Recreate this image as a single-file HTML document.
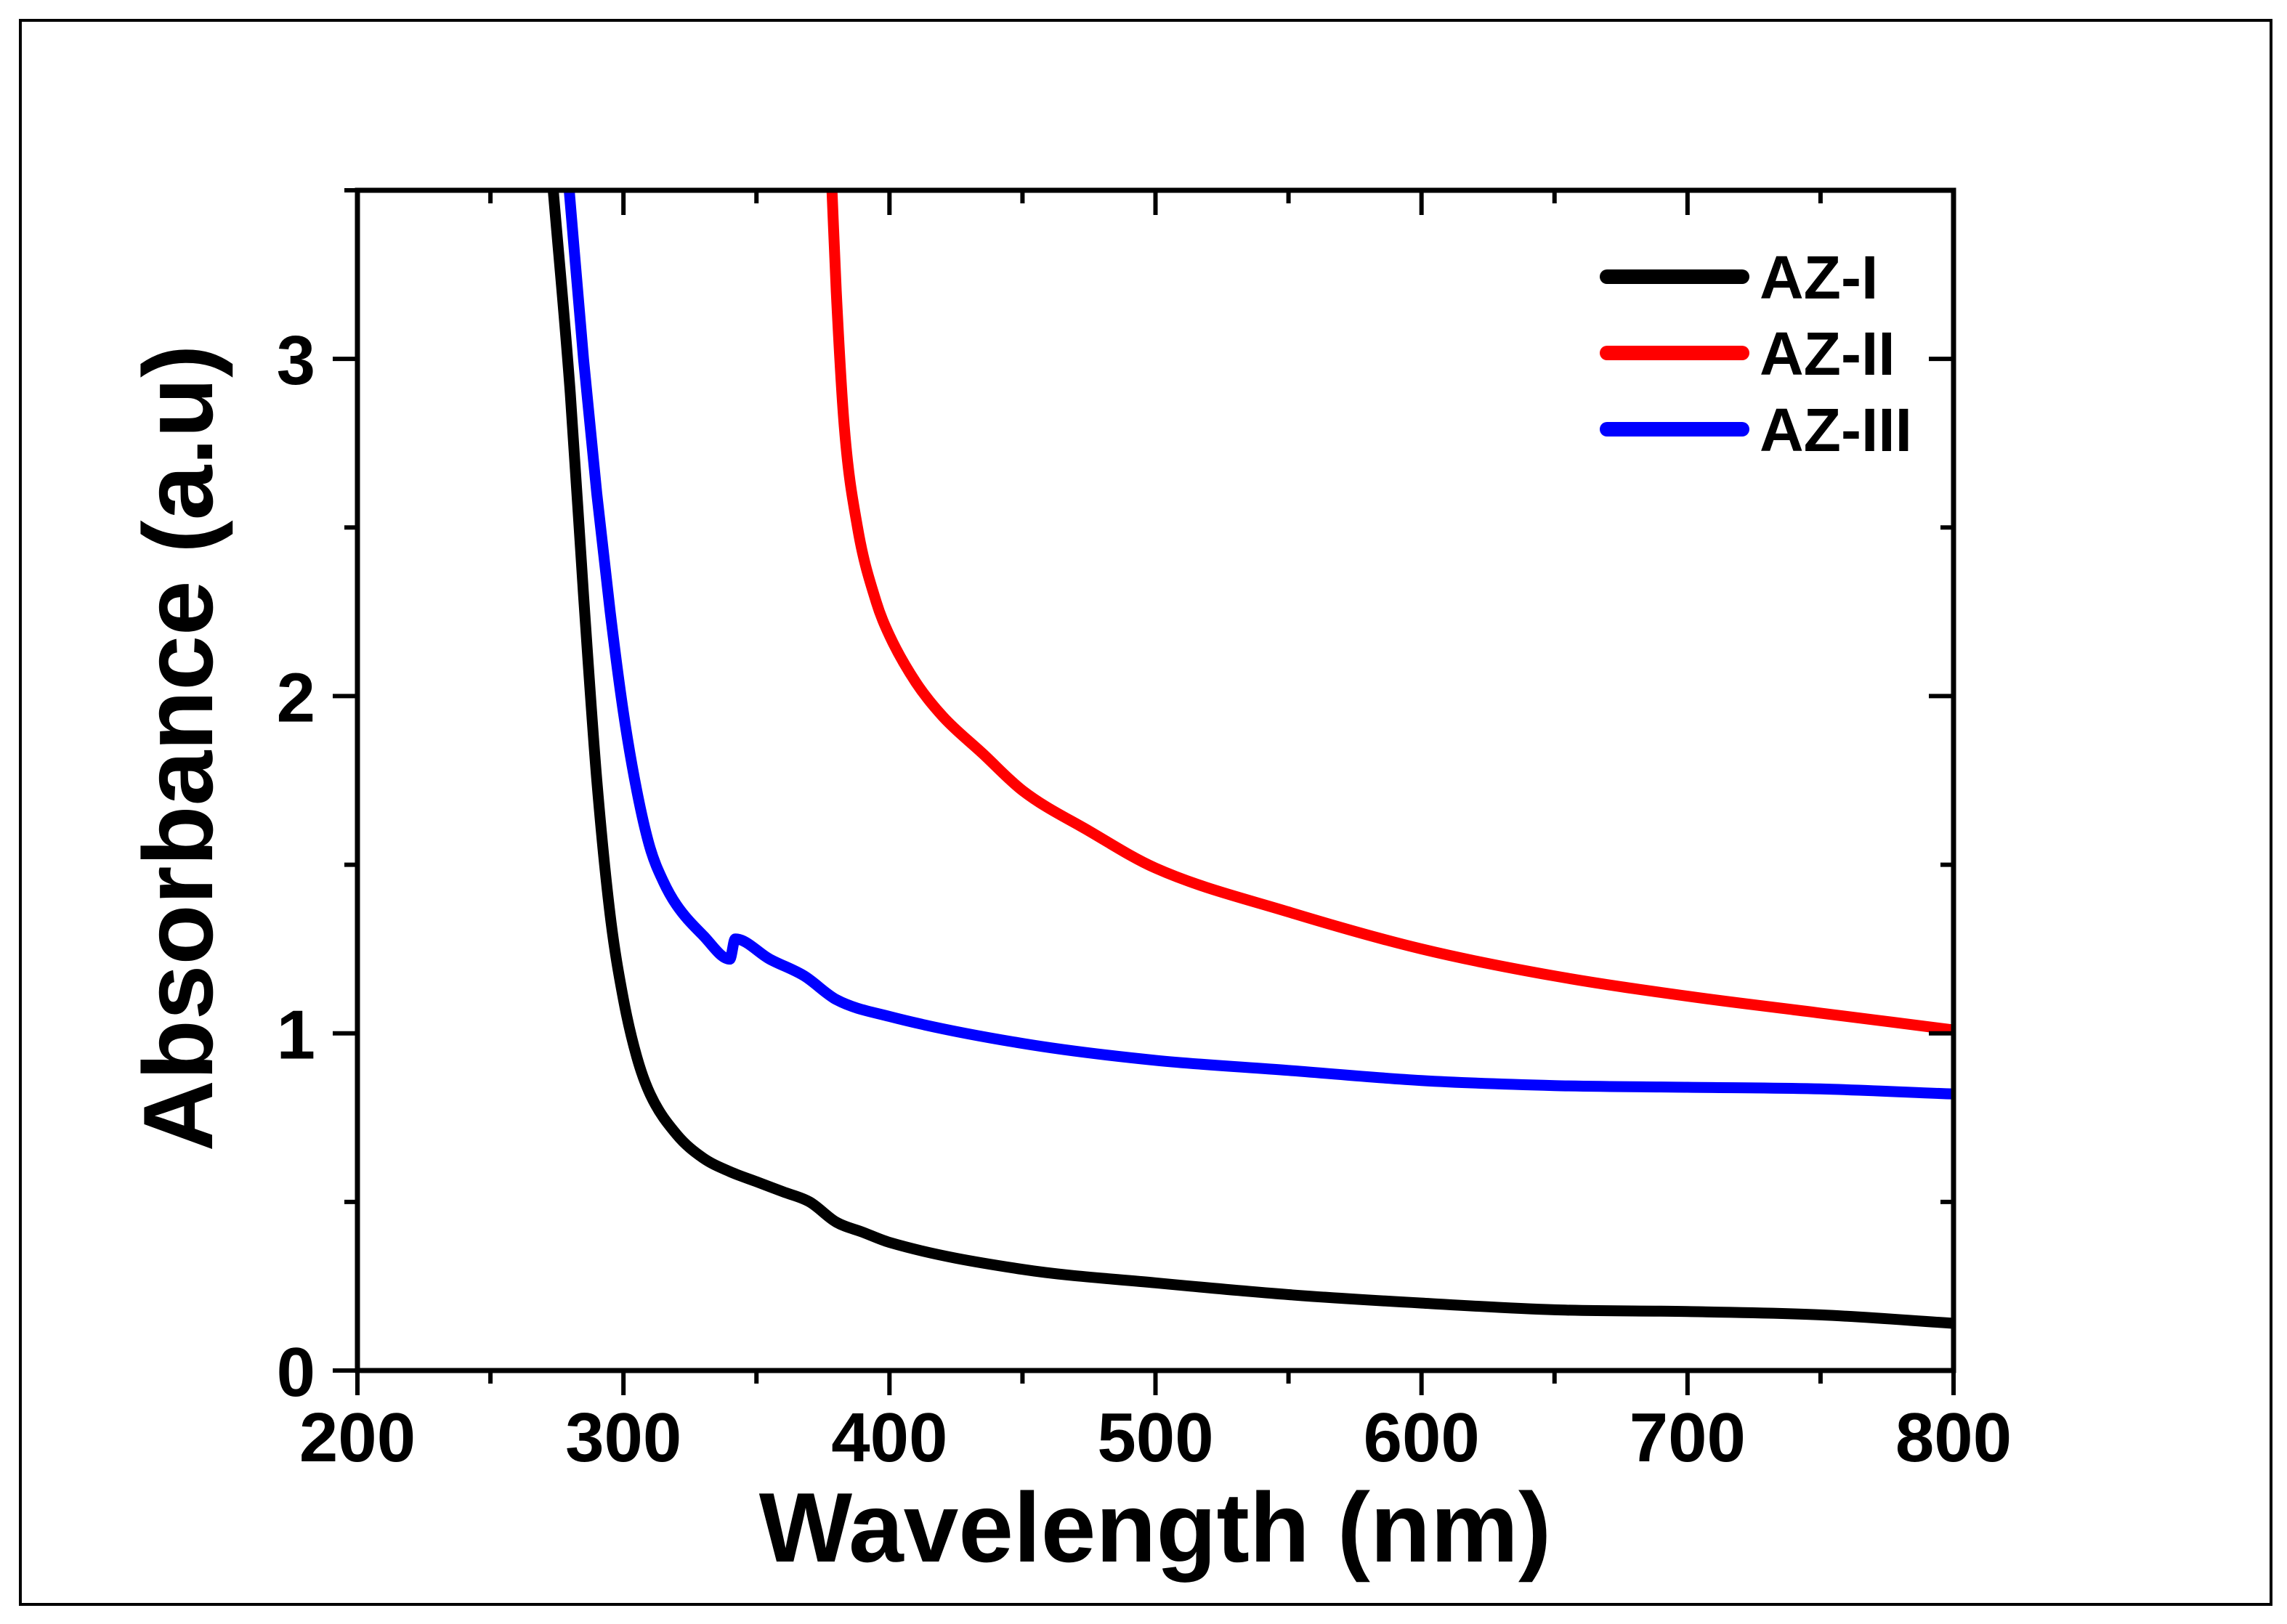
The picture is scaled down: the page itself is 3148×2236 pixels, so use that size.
<!DOCTYPE html>
<html><head><meta charset="utf-8"><style>
html,body{margin:0;padding:0;background:#fff;}
svg{display:block;font-family:"Liberation Sans",Arial,sans-serif;font-weight:bold;}
</style></head><body>
<svg id="chart" width="3148" height="2236" viewBox="0 0 3148 2236">
<rect x="28" y="28" width="3098" height="2181" fill="#fff" stroke="#000" stroke-width="4"/>
<defs><clipPath id="plotclip"><rect x="492" y="262" width="2197" height="1625"/></clipPath></defs>
<g id="curves" clip-path="url(#plotclip)"></g>
<rect x="492" y="262" width="2197" height="1625" fill="none" stroke="#000" stroke-width="7"/>
<g id="ticks"></g>
<text x="1590" y="2150" font-size="136" text-anchor="middle">Wavelength (nm)</text>
<text transform="translate(292,1030) rotate(-90)" font-size="136" text-anchor="middle">Absorbance (a.u)</text>
<g>
<line x1="2212" y1="381" x2="2398" y2="381" stroke="#000" stroke-width="20" stroke-linecap="round"/>
<text x="2422" y="411" font-size="84">AZ-I</text>
<line x1="2212" y1="486" x2="2398" y2="486" stroke="#f00" stroke-width="20" stroke-linecap="round"/>
<text x="2422" y="516" font-size="84">AZ-II</text>
<line x1="2212" y1="591" x2="2398" y2="591" stroke="#00f" stroke-width="20" stroke-linecap="round"/>
<text x="2422" y="621" font-size="84">AZ-III</text>
</g>
</svg>
<script>
const xTicks = [200,300,400,500,600,700,800];
const yTicks = [0,1,2,3];
const azIWave = [273.6,280,285,290,295,300,305,310,320,330,340,350,360,370,380,390,400,450,500,550,600,650,700,750,800];
const azIAbs  = [3.5,2.9,2.3,1.75,1.35,1.1,0.93,0.82,0.7,0.63,0.59,0.56,0.53,0.5,0.44,0.41,0.38,0.30,0.26,0.225,0.20,0.18,0.175,0.165,0.14];
const azIIWave = [378.4,380,383,388,395,400,410,420,435,450,475,500,550,600,650,700,750,800];
const azIIAbs  = [3.5,3.2,2.8,2.5,2.28,2.18,2.04,1.94,1.83,1.72,1.6,1.49,1.36,1.25,1.17,1.11,1.06,1.01];
const azIIIWave = [279.6,285,290,295,300,305,310,315,320,330,340,342,355,368,380,400,450,500,550,600,650,700,750,800];
const azIIIAbs  = [3.5,3.0,2.6,2.25,1.95,1.72,1.55,1.45,1.38,1.29,1.22,1.28,1.22,1.17,1.1,1.05,0.97,0.92,0.89,0.86,0.845,0.84,0.835,0.82];

const X0=492,X1=2689,Y0=1887,Y1=262;
const xs = v => X0+(v-200)/(800-200)*(X1-X0);
const ys = v => Y0-(v-0)/(3.5-0)*(Y0-Y1);
const NS='http://www.w3.org/2000/svg';
const tg=document.getElementById('ticks');
function ln(x1,y1,x2,y2,name){const l=document.createElementNS(NS,'line');
l.setAttribute('x1',x1);l.setAttribute('y1',y1);l.setAttribute('x2',x2);l.setAttribute('y2',y2);
l.setAttribute('stroke','#000');l.setAttribute('stroke-width','6');


tg.appendChild(l);}
function tx(x,y,s,anchor,name){const t=document.createElementNS(NS,'text');
t.setAttribute('x',x);t.setAttribute('y',y);t.setAttribute('font-size','96');t.setAttribute('text-anchor',anchor);t.textContent=s;


tg.appendChild(t);}
for(let v=200;v<=800;v+=50){const major=v%100===0;const x=xs(v);
ln(x,Y0,x,Y0+(major?34:18),'x-tick');ln(x,Y1,x,Y1+(major?34:18),'x-tick-top');}
for(let v=0;v<=3.5;v+=0.5){const major=v%1===0;const y=ys(v);
ln(X0,y,X0-(major?34:18),y,'y-tick');ln(X1,y,X1-(major?34:18),y,'y-tick-right');}
xTicks.forEach(v=>tx(xs(v),2012,String(v),'middle','x-tick-label'));
yTicks.forEach(v=>tx(434,ys(v)+35,String(v),'end','y-tick-label'));
const cg=document.getElementById('curves');
function smoothPath(px,py){
  const n=px.length, d=[], m=new Array(n);
  for(let i=0;i<n-1;i++) d.push((py[i+1]-py[i])/(px[i+1]-px[i]));
  m[0]=d[0]; m[n-1]=d[n-2];
  for(let i=1;i<n-1;i++){ m[i]=(d[i-1]*d[i]<=0)?0:(d[i-1]+d[i])/2; }
  for(let i=0;i<n-1;i++){ if(d[i]===0){m[i]=0;m[i+1]=0;continue;}
    const a=m[i]/d[i], b=m[i+1]/d[i], s=a*a+b*b;
    if(s>9){const t=3/Math.sqrt(s); m[i]=t*a*d[i]; m[i+1]=t*b*d[i];} }
  let s='M'+px[0].toFixed(1)+','+py[0].toFixed(1);
  for(let i=0;i<n-1;i++){const h=(px[i+1]-px[i])/3;
    s+=' C'+(px[i]+h).toFixed(1)+','+(py[i]+m[i]*h).toFixed(1)+' '+(px[i+1]-h).toFixed(1)+','+(py[i+1]-m[i+1]*h).toFixed(1)+' '+px[i+1].toFixed(1)+','+py[i+1].toFixed(1);}
  return s;}
function curve(w,a,color,name){const p=document.createElementNS(NS,'path');
p.setAttribute('d',smoothPath(w.map(xs),a.map(ys)));
p.setAttribute('fill','none');p.setAttribute('stroke',color);p.setAttribute('stroke-width','15');p.setAttribute('stroke-linejoin','round');


cg.appendChild(p);}
curve(azIWave,azIAbs,'#000','series-az-i');
curve(azIIWave,azIIAbs,'#f00','series-az-ii');
curve(azIIIWave,azIIIAbs,'#00f','series-az-iii');
</script>
</body></html>
